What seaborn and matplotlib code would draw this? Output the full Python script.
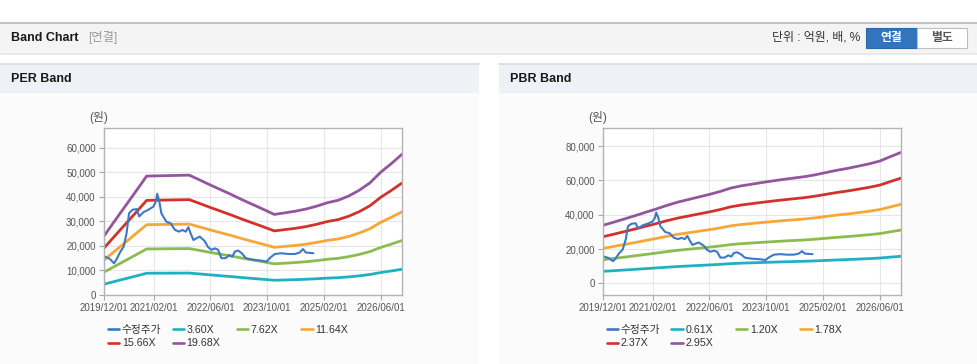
import pandas as pd
import numpy as np
import matplotlib.pyplot as plt
from matplotlib.lines import Line2D
from matplotlib.patches import Rectangle
from matplotlib.ticker import FuncFormatter
import seaborn as sns

# band base values, quarterly (EPS / BPS in won)
band_dates = pd.date_range("2019-12-01", "2026-12-01", freq="3MS")
per_eps = [1220, 1530, 1840, 2150, 2460, 2465, 2470, 2475, 2480, 2380, 2275, 2175,
           2075, 1970, 1870, 1770, 1667, 1700, 1735, 1780, 1840, 1910, 1960, 2050,
           2170, 2320, 2540, 2720, 2912]
pbr_bps = [11460, 12070, 12710, 13360, 14030, 14680, 15390, 16030, 16540, 17050,
           17560, 18140, 18810, 19250, 19590, 19930, 20240, 20540, 20810, 21090,
           21460, 21900, 22340, 22710, 23150, 23590, 24140, 25020, 25860]
per_mults = [3.60, 7.62, 11.64, 15.66, 19.68]
pbr_mults = [0.61, 1.20, 1.78, 2.37, 2.95]

# adjusted close (수정주가)
price_dates = ["2019-12-01", "2020-01-20", "2020-02-25", "2020-03-15", "2020-04-20",
               "2020-05-18", "2020-06-12", "2020-07-03", "2020-08-01", "2020-09-06",
               "2020-09-28", "2020-11-03", "2020-12-15", "2021-01-28", "2021-02-18",
               "2021-03-01", "2021-03-18", "2021-04-06", "2021-05-18", "2021-06-24",
               "2021-08-01", "2021-09-06", "2021-10-03", "2021-11-01", "2021-11-24",
               "2021-12-12", "2022-01-06", "2022-03-01", "2022-04-12", "2022-05-12",
               "2022-06-10", "2022-07-10", "2022-08-06", "2022-09-03", "2022-10-10",
               "2022-11-10", "2022-12-06", "2022-12-28", "2023-01-25", "2023-02-25",
               "2023-04-01", "2023-05-03", "2023-06-15", "2023-08-12", "2023-09-25",
               "2023-11-01", "2023-12-06", "2024-02-01", "2024-03-28", "2024-05-25",
               "2024-07-06", "2024-08-03", "2024-08-28", "2024-11-01"]
price_vals = [15800, 14700, 12900, 14300, 17700, 19700, 25300, 33300, 34700, 35000,
              32000, 33700, 34700, 36000, 38100, 41200, 38500, 33300, 29900, 29200,
              26500, 25800, 26500, 25800, 27600, 25200, 22400, 23800, 22000, 19500,
              18400, 19000, 18400, 15000, 15000, 16300, 15600, 17700, 18100, 17000,
              15000, 14600, 14300, 14000, 13600, 15400, 16700, 17000, 16700, 16700,
              17300, 18700, 17300, 17000]

x_ticks = ["2019/12/01", "2021/02/01", "2022/06/01", "2023/10/01", "2025/02/01", "2026/06/01"]
colors = ["#3a79c9", "#1fb0c4", "#8cbb4f", "#f6a735", "#d1322b", "#94559f"]

sns.set_style("white")
plt.rcParams["font.family"] = ["Liberation Sans", "Noto Sans CJK KR"]

W, H = 978, 364
fig = plt.figure(figsize=(W / 100, H / 100), dpi=100)


def fx(x):
    return x / W


def fy(y):
    return 1 - y / H


def box(x0, y0, x1, y1, fc, ec="none", lw=0):
    fig.add_artist(Rectangle((fx(x0), fy(y1)), fx(x1) - fx(x0), fy(y0) - fy(y1),
                             transform=fig.transFigure, fc=fc, ec=ec, lw=lw, zorder=-2))


def hline(y, x0, x1, color, lw=1):
    fig.add_artist(Line2D([fx(x0), fx(x1)], [fy(y), fy(y)], color=color, lw=lw,
                          transform=fig.transFigure, zorder=-1))


# page header
box(0, 23, W, 52, "#f4f4f4")
hline(22.5, 0, W, "#bcbcbc", 1.3)
hline(52.5, 0, W, "#d2d2d2", 1)
hline(54, 0, W, "#ececec", 1.2)
fig.text(fx(11), fy(38), "Band Chart", fontsize=9, fontweight="bold", color="#1a1a1a", va="center")
fig.text(fx(88), fy(38), "[연결]", fontsize=8.8, color="#9a9a9a", va="center")
fig.text(fx(860), fy(38), "단위 : 억원, 배, %", fontsize=8.6, color="#333333", va="center", ha="right")
box(866, 28.5, 917, 47.5, "#3375bd", "#2d68a8", 0.8)
box(917, 28.5, 967, 47.5, "white", "#bdbdbd", 0.8)
fig.text(fx(891.5), fy(38), "연결", fontsize=8.5, fontweight="bold", color="white", va="center", ha="center")
fig.text(fx(942), fy(38), "별도", fontsize=8.5, fontweight="bold", color="#555555", va="center", ha="center")


def band_chart(px0, title, base, mults, ylim, yticks):
    # panel
    box(px0, 64, px0 + 479, 92.5, "#eef2f7")
    box(px0, 92.5, px0 + 479, H, "#fbfbfb")
    hline(64, px0, px0 + 479, "#d6d9de", 1.2)
    fig.text(fx(px0 + 11), fy(79), title, fontsize=9, fontweight="bold", color="#1a1a1a", va="center")

    ax = fig.add_axes([fx(px0 + 104), fy(295), 298 / W, (295 - 128) / H])
    ax.set_facecolor("white")
    labels = [f"{m:.2f}X" for m in mults]
    df = pd.DataFrame({
        "date": np.tile(band_dates, len(mults)),
        "value": np.outer(mults, base).ravel(),
        "band": np.repeat(labels, len(band_dates)),
    })
    sns.lineplot(data=df, x="date", y="value", hue="band", hue_order=labels,
                 palette=colors[1:], linewidth=2.0, legend=False, ax=ax)
    sns.lineplot(x=pd.to_datetime(price_dates), y=price_vals, color=colors[0],
                 linewidth=1.5, ax=ax)

    ax.set_xlim(pd.Timestamp("2019-12-01"), pd.Timestamp("2026-12-01"))
    ax.set_xticks(pd.to_datetime(x_ticks))
    ax.set_xticklabels(x_ticks)
    ax.set_ylim(*ylim)
    ax.set_yticks(yticks)
    ax.yaxis.set_major_formatter(FuncFormatter(lambda v, p: f"{v:,.0f}"))
    ax.set_xlabel("")
    ax.set_ylabel("")
    ax.grid(True, color="#e6e6e6", lw=0.8)
    ax.set_axisbelow(True)
    ax.tick_params(axis="both", colors="#a8a8a8", labelcolor="#555555", labelsize=7,
                   length=3.5, width=0.8, direction="out", pad=2.5)
    ax.tick_params(left=True, bottom=True)
    for s in ax.spines.values():
        s.set_color("#b3b3b3")
        s.set_linewidth(1)
    fig.text(fx(px0 + 99), fy(118), "(원)", fontsize=8.5, color="#555555", ha="center", va="center")

    # legend, 4 per row
    names = ["수정주가"] + labels
    for i, (name, c) in enumerate(zip(names, colors)):
        fig.legend(handles=[Line2D([], [], color=c, lw=1.9)], labels=[name],
                   loc="center left",
                   bbox_to_anchor=(fx(px0 + 108 + (i % 4) * 64.5), fy(330 + (i // 4) * 13.5)),
                   frameon=False, fontsize=7.7, handlelength=1.05, handletextpad=0.25,
                   borderpad=0, borderaxespad=0, labelcolor="#333333")
    return ax


band_chart(0, "PER Band", per_eps, per_mults, (0, 68000), range(0, 60001, 10000))
band_chart(499, "PBR Band", pbr_bps, pbr_mults, (-6800, 90500), range(0, 80001, 20000))

fig.savefig("out.png", dpi=100)
